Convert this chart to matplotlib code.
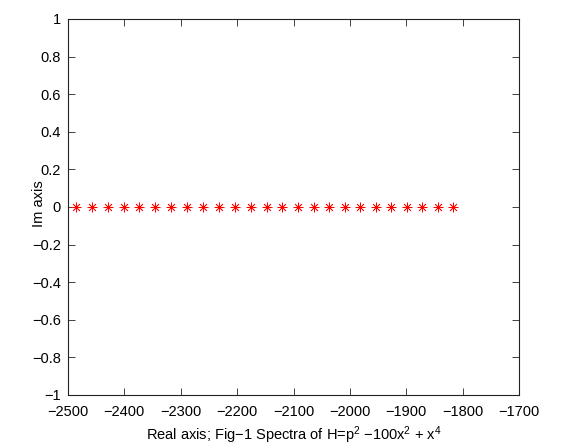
import matplotlib
matplotlib.use("Agg")
import matplotlib.pyplot as plt

plt.rcParams['font.family'] = ['Liberation Sans', 'DejaVu Sans']
plt.rcParams['mathtext.fontset'] = 'custom'
plt.rcParams['mathtext.rm'] = 'Liberation Sans'
plt.rcParams['mathtext.it'] = 'Liberation Sans'

# Eigenvalues (real parts); imaginary parts are zero
real_parts = [-2486.3, -2458.0, -2429.6, -2401.2, -2373.5, -2345.1, -2316.8,
              -2288.9, -2260.5, -2232.2, -2204.3, -2175.9, -2147.5, -2119.9,
              -2091.5, -2064.2, -2036.5, -2008.7, -1981.5, -1953.7, -1926.5,
              -1899.2, -1871.5, -1844.2, -1817.1]
imag_parts = [0.0] * len(real_parts)

x_ticks = [-2500, -2400, -2300, -2200, -2100, -2000, -1900, -1800, -1700]
y_ticks = [-1, -0.8, -0.6, -0.4, -0.2, 0, 0.2, 0.4, 0.6, 0.8, 1]
y_tick_labels = ['\u22121', '\u22120.8', '\u22120.6', '\u22120.4', '\u22120.2', '0',
                 '0.2', '0.4', '0.6', '0.8', '1']

fig = plt.figure(figsize=(5.71, 4.46), dpi=100)
ax = fig.add_axes([68/571, 1 - 395/446, (519-68)/571, (395-19)/446])

ax.plot(real_parts, imag_parts, linestyle='none', marker=(8, 2, 0),
        markersize=7, markeredgewidth=0.55, color='red')

ax.set_xlim(-2500, -1700)
ax.set_ylim(-1, 1)
ax.set_xticks(x_ticks)
ax.set_xticklabels([str(v).replace('-', '\u2212') for v in x_ticks])
ax.set_yticks(y_ticks)
ax.set_yticklabels(y_tick_labels)

ax.tick_params(direction='in', length=5, width=0.6, labelsize=10.5,
               top=True, right=True, colors='#222222', labelcolor='black')
ax.tick_params(axis='x', pad=7)
ax.tick_params(axis='y', pad=5)
for s in ax.spines.values():
    s.set_linewidth(0.8)
    s.set_color('#222222')

ax.set_xlabel('Real axis; Fig\u22121 Spectra of H=p$^2$ \u2212100x$^2$ + x$^4$',
              fontsize=10.5, labelpad=4)
ax.set_ylabel('Im axis', fontsize=10.5)
ax.yaxis.set_label_coords(-0.048, 0.51)

fig.savefig('out.png', dpi=100)
